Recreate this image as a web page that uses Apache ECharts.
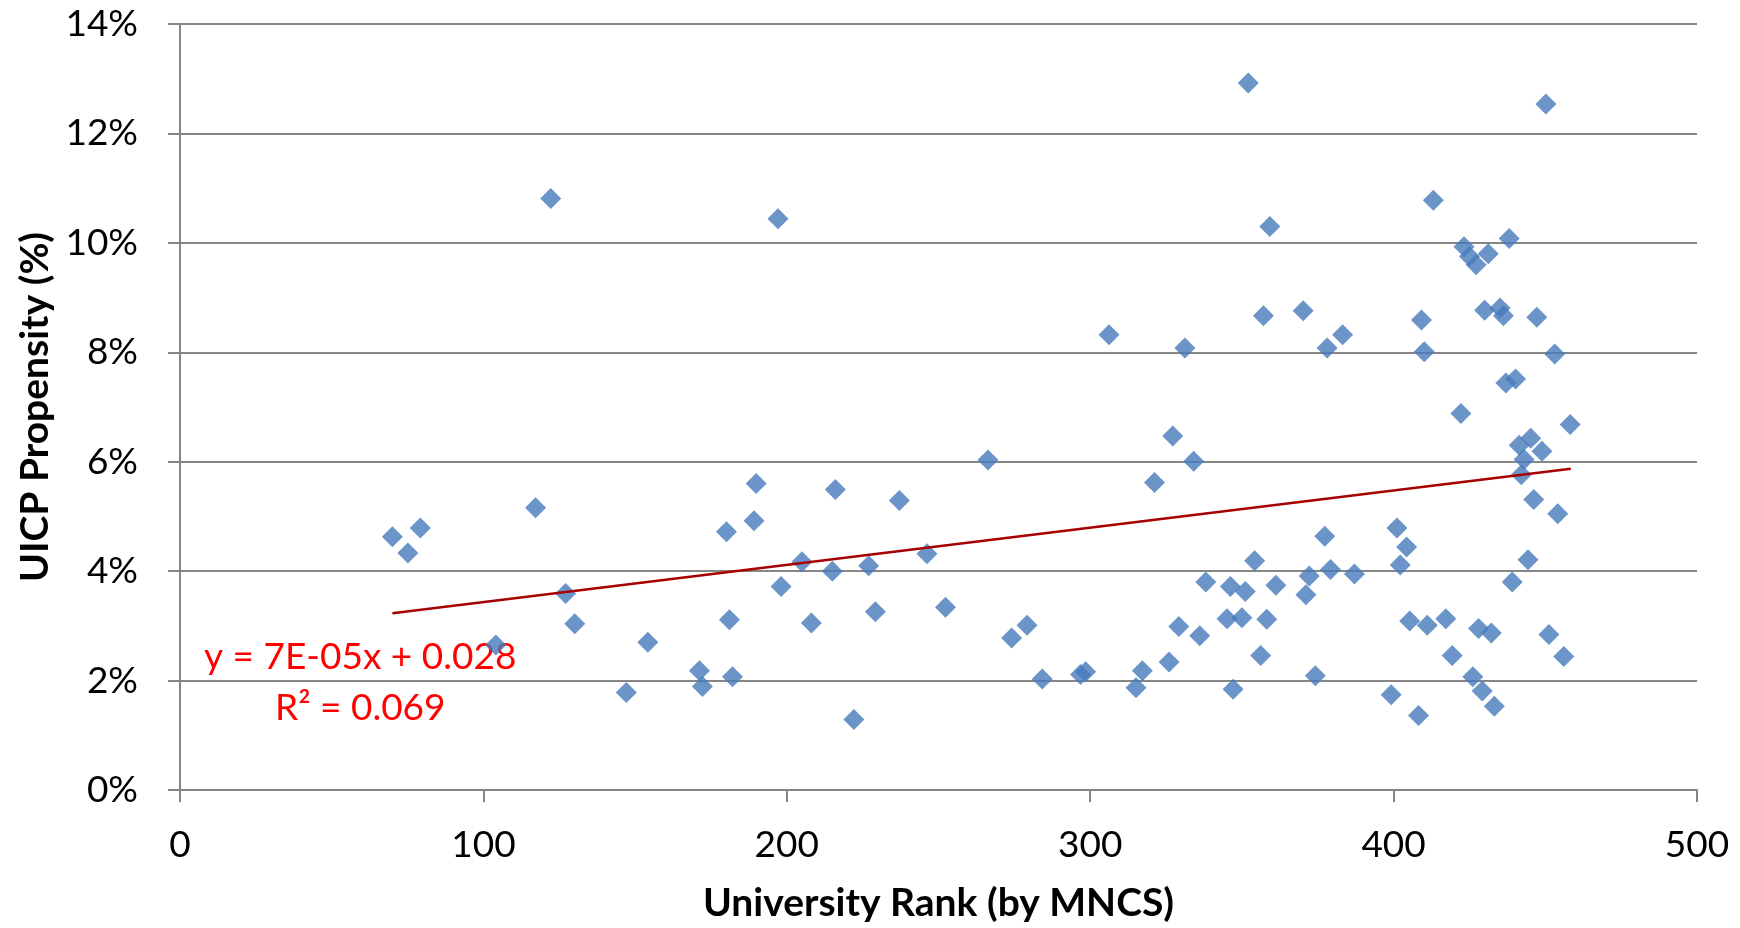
<!DOCTYPE html>
<html>
<head>
<meta charset="utf-8">
<script src="https://cdn.jsdelivr.net/npm/echarts@6/dist/echarts.min.js"></script>
<style>
html,body{margin:0;padding:0;background:#fff;}
#chart{width:1740px;height:928px;}
</style>
</head>
<body>
<div id="chart"></div>
<script>
// University rank (by MNCS)
const rankX = [70.0,75.1,79.2,104.1,117.2,122.2,127.1,130.1,147.1,154.2,171.2,172.2,180.1,181.1,182.1,189.2,189.9,197.1,198.1,205.0,208.1,215.0,216.0,222.1,227.0,229.2,237.1,246.2,252.3,266.3,274.1,279.2,284.2,296.8,298.5,306.2,315.1,317.2,321.2,326.0,327.2,329.2,331.2,334.1,336.1,338.1,345.1,346.2,347.1,350.0,351.1,352.1,354.2,356.2,357.1,358.2,359.2,361.2,370.2,371.1,372.2,374.2,377.3,378.1,379.2,383.2,387.1,399.2,401.1,402.2,404.3,405.3,408.2,409.2,410.1,411.1,413.1,417.2,419.3,422.2,423.2,425.0,426.1,427.2,428.0,429.2,430.0,431.2,432.2,433.2,435.1,436.2,437.0,438.1,439.1,440.2,441.4,442.1,443.0,445.2,444.3,446.2,447.2,448.9,450.2,451.2,453.1,454.1,456.1,458.2];
// UICP propensity (%)
const propensityY = [4.63,4.33,4.79,2.65,5.16,10.81,3.59,3.04,1.78,2.70,2.18,1.89,4.72,3.11,2.07,4.92,5.60,10.44,3.72,4.17,3.05,4.00,5.49,1.29,4.10,3.26,5.29,4.32,3.34,6.03,2.78,3.01,2.03,2.11,2.16,8.32,1.87,2.18,5.62,2.34,6.47,2.99,8.08,6.01,2.82,3.80,3.13,3.72,1.84,3.15,3.63,12.92,4.19,2.46,8.67,3.12,10.30,3.74,8.76,3.57,3.91,2.09,4.64,8.08,4.03,8.32,3.95,1.74,4.79,4.11,4.44,3.09,1.36,8.59,8.01,3.01,10.78,3.13,2.46,6.88,9.93,9.75,2.07,9.60,2.95,1.81,8.77,9.80,2.87,1.53,8.81,8.67,7.44,10.08,3.80,7.51,6.30,5.76,6.04,6.43,4.21,5.31,8.64,6.19,12.54,2.84,7.97,5.05,2.44,6.68];
// Linear trendline endpoints as drawn
const trendX = [70, 458.4];
const trendY = [3.23, 5.87];
const xTicks = [0, 100, 200, 300, 400, 500];
const yTickLabels = ['0%','2%','4%','6%','8%','10%','12%','14%'];

const points = rankX.map((x, i) => [x, propensityY[i]]);
const trend = trendX.map((x, i) => [x, trendY[i]]);

const FONT = 'Lato';
const chart = echarts.init(document.getElementById('chart'), null, {renderer: 'canvas'});
chart.setOption({
  animation: false,
  backgroundColor: '#ffffff',
  grid: {left: 180, right: 43, top: 24, bottom: 137, containLabel: false},
  xAxis: {
    type: 'value', min: xTicks[0], max: xTicks[xTicks.length - 1], interval: 100,
    name: 'University Rank (by MNCS)', nameLocation: 'middle', nameGap: 94,
    nameTextStyle: {fontFamily: FONT, fontWeight: 'bold', fontSize: 39, color: '#000'},
    axisLine: {show: true, lineStyle: {color: '#868686', width: 2}},
    axisTick: {show: true, length: 12, inside: false, lineStyle: {color: '#868686', width: 2}},
    axisLabel: {fontFamily: FONT, fontSize: 37, color: '#000', margin: 37},
    splitLine: {show: false}
  },
  yAxis: {
    type: 'value', min: 0, max: 14, interval: 2,
    name: 'UICP Propensity (%)', nameLocation: 'middle', nameGap: 122, nameRotate: 90,
    nameTextStyle: {fontFamily: FONT, fontWeight: 'bold', fontSize: 39, color: '#000'},
    axisLine: {show: true, lineStyle: {color: '#868686', width: 2}},
    axisTick: {show: true, length: 12, inside: false, lineStyle: {color: '#868686', width: 2}},
    axisLabel: {fontFamily: FONT, fontSize: 37, color: '#000', margin: 42,
      formatter: v => yTickLabels[Math.round(v / 2)]},
    splitLine: {show: true, lineStyle: {color: '#868686', width: 2}}
  },
  series: [
    {
      type: 'scatter', data: points, symbol: 'diamond', symbolSize: 21,
      itemStyle: {color: '#4679BC'}, z: 3
    },
    {
      type: 'line', data: trend, symbol: 'none', showSymbol: false,
      lineStyle: {color: '#A80000', width: 2.5}, z: 4
    }
  ],
  graphic: [
    {type: 'text', left: 204, top: 639, style: {text: 'y = 7E-05x + 0.028', fontFamily: FONT, fontSize: 37, fill: '#FF0000'}},
    {type: 'text', left: 275, top: 690, style: {text: 'R² = 0.069', fontFamily: FONT, fontSize: 37, fill: '#FF0000'}}
  ]
});
</script>
</body>
</html>
